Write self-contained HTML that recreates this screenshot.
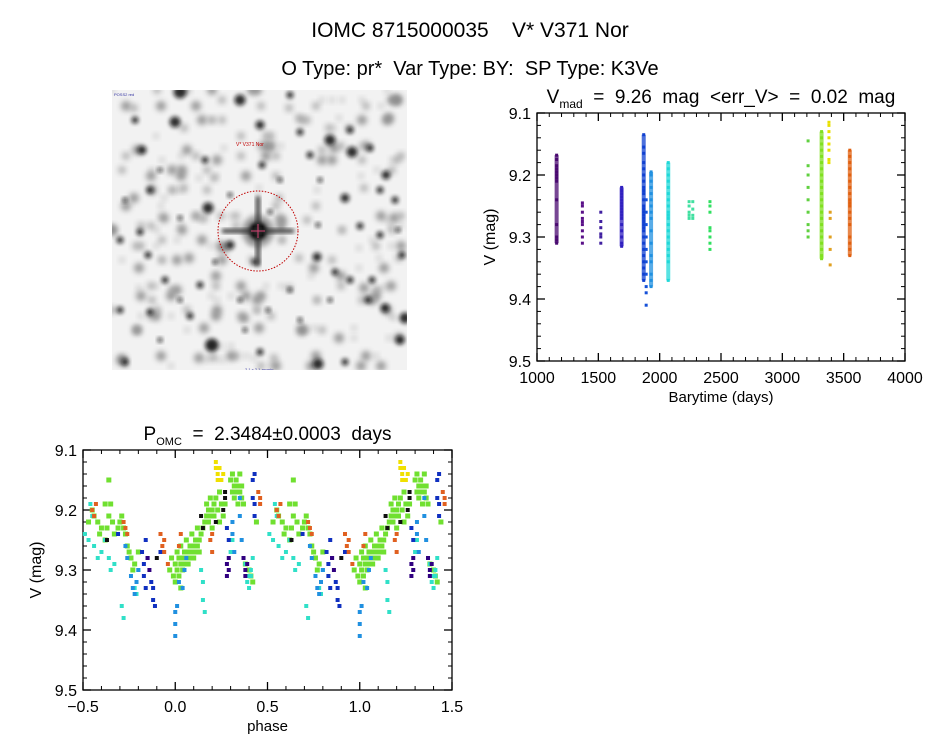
<!DOCTYPE html>
<html><head><meta charset="utf-8"><style>
html,body{margin:0;padding:0;background:#fff;}
svg{display:block;font-family:"Liberation Sans",sans-serif;}
text{white-space:pre;}
</style></head><body>
<svg id="s" width="944" height="747" viewBox="0 0 944 747" xmlns="http://www.w3.org/2000/svg">
<defs><filter id="bl" x="-50%" y="-50%" width="200%" height="200%"><feGaussianBlur stdDeviation="2.2"/></filter>
<filter id="bl2" x="-50%" y="-50%" width="200%" height="200%"><feGaussianBlur stdDeviation="3"/></filter>
<clipPath id="imgclip"><rect x="112" y="90" width="295" height="280"/></clipPath></defs>
<text x="470" y="37" font-size="21" text-anchor="middle" xml:space="preserve">IOMC 8715000035    V* V371 Nor</text>
<text x="470" y="75" font-size="20" text-anchor="middle" xml:space="preserve">O Type: pr*  Var Type: BY:  SP Type: K3Ve</text>
<g id="img" clip-path="url(#imgclip)">
<rect x="112" y="90" width="295" height="280" fill="#f2f2f2"/>
</g>
<g id="lc"></g>
<g id="ph"></g>
</svg>
<script>
const NS="http://www.w3.org/2000/svg";
function mk(p,tag,at){const e=document.createElementNS(NS,tag);for(const k in at)e.setAttribute(k,at[k]);p.appendChild(e);return e;}
// ---------- sky image (decorative) ----------
const img=document.getElementById('img');
for(let i=0;i<260;i++){const x=112+((i*53+i*i*7)%295),y=90+((i*97+i*i*3)%280);
  mk(img,'circle',{cx:x,cy:y,r:3+(i%3),fill:'#888',filter:'url(#bl2)',opacity:0.35+0.25*(i%3)});}
const stars=[[180,92,7],[240,100,6],[135,120,4],[175,122,6],[290,95,4],[260,125,5],[300,132,4],[330,140,6],[350,130,4],[352,152,6],[370,148,4],[142,150,5],[205,160,4],[262,165,4],[310,155,4],[386,175,5],[380,190,4],[150,190,4],[208,208,6],[230,195,3],[345,198,5],[395,200,4],[120,240,4],[140,232,4],[180,218,3],[230,245,5],[270,212,3],[318,225,3],[360,226,4],[380,235,4],[148,255,4],[165,280,4],[200,285,4],[215,262,3],[255,262,4],[317,257,5],[335,272,4],[350,280,4],[372,280,4],[402,255,4],[120,310,4],[150,312,4],[190,316,4],[212,345,7],[245,330,3],[268,310,3],[300,320,3],[330,300,3],[368,300,4],[385,308,5],[405,318,6],[400,340,5],[160,340,3],[260,352,4],[318,364,6],[345,362,4],[125,362,4],[180,300,3],[290,290,3],[240,300,3],[160,170,3],[280,180,3],[320,180,3],[125,200,3],[398,230,3]];
for(const st of stars){mk(img,'circle',{cx:st[0],cy:st[1],r:st[2]-0.5,fill:'#111',filter:'url(#bl)',opacity:0.85});}
mk(img,'circle',{cx:258,cy:231,r:16,fill:'#999',filter:'url(#bl2)'});
mk(img,'circle',{cx:258,cy:231,r:9,fill:'#000',filter:'url(#bl)'});
mk(img,'rect',{x:222,y:229,width:72,height:4,fill:'#333',filter:'url(#bl)'});
mk(img,'rect',{x:256,y:196,width:4,height:70,fill:'#333',filter:'url(#bl)'});
mk(img,'circle',{cx:258,cy:231,r:40,fill:'none',stroke:'#c00000','stroke-width':1,'stroke-dasharray':'1.5 1.5'});
mk(img,'line',{x1:251,y1:231,x2:265,y2:231,stroke:'#d04070','stroke-width':1});
mk(img,'line',{x1:258,y1:224,x2:258,y2:238,stroke:'#d04070','stroke-width':1});
const lab=mk(img,'text',{x:236,y:146,'font-size':5,fill:'#c00000'});lab.textContent='V* V371 Nor';
const l2=mk(img,'text',{x:114,y:96,'font-size':4,fill:'#3030a0'});l2.textContent='POSS2 red';
const l3=mk(img,'text',{x:245,y:371,'font-size':4,fill:'#3030a0'});l3.textContent='2.1 x 2.1 arcmin';

// ---------- light curve data ----------
const lcTimes=[1160,1370,1520,1690,1870,1890,1930,2070,2240,2270,2410,3210,3320,3380,3390,3550];
const lcColors=['#4a0a70','#5a1088','#4020a0','#3020c0','#1040d0','#1550d8','#2090e0','#20d8d8','#40e0a0','#40e0a0','#30e060','#60d040','#80e020','#e8e000','#e0a020','#e06010'];
const lcMags=[
[9.168,9.175,9.185,9.19,9.195,9.2,9.205,9.21,9.24,9.28,9.30,9.305,9.31],
[9.245,9.25,9.26,9.27,9.275,9.28,9.29,9.30,9.31],
[9.26,9.275,9.285,9.295,9.30,9.31],
[9.22,9.225,9.23,9.235,9.24,9.245,9.25,9.255,9.26,9.265,9.27,9.28,9.29,9.30,9.31,9.315],
[9.135,9.155,9.165,9.18,9.19,9.2,9.21,9.22,9.225,9.23,9.24,9.25,9.255,9.26,9.265,9.27,9.275,9.28,9.285,9.29,9.30,9.31,9.32,9.33,9.34,9.35,9.36,9.37],
[9.24,9.26,9.28,9.30,9.32,9.34,9.36,9.38,9.39,9.41],
[9.195,9.2,9.21,9.22,9.23,9.24,9.25,9.26,9.27,9.29,9.31,9.33,9.34,9.36,9.37,9.38],
[9.18,9.19,9.2,9.21,9.22,9.23,9.24,9.25,9.26,9.265,9.27,9.28,9.29,9.30,9.31,9.32,9.33,9.34,9.37],
[9.243,9.25,9.26,9.265,9.27],
[9.243,9.255,9.265,9.27],
[9.243,9.25,9.26,9.285,9.29,9.30,9.31,9.32],
[9.145,9.185,9.2,9.22,9.24,9.26,9.28,9.29,9.30],
[9.13,9.14,9.15,9.16,9.17,9.18,9.19,9.2,9.21,9.22,9.23,9.24,9.25,9.26,9.27,9.28,9.29,9.30,9.31,9.32,9.33,9.335],
[9.115,9.12,9.13,9.14,9.15,9.16,9.175,9.18],
[9.26,9.27,9.30,9.32,9.345],
[9.16,9.17,9.18,9.19,9.2,9.21,9.22,9.23,9.24,9.245,9.25,9.26,9.27,9.28,9.30,9.31,9.32,9.33]];
const lcXTicks=[1000,1500,2000,2500,3000,3500,4000];
const lcYTicks=[9.1,9.2,9.3,9.4,9.5];

// ---------- phase data (phase in [-0.5,0.5), drawn at p and p+1) ----------
const phColors=['#70e030','#30e0c8','#2090e0','#1030c0','#300080','#101010','#e06020','#f0e000'];
const phPhase=[
[-0.47,-0.45,-0.44,-0.42,-0.41,-0.40,-0.38,-0.37,-0.36,-0.35,-0.34,-0.33,-0.31,-0.30,-0.29,-0.28,-0.27,-0.26,-0.25,-0.24,-0.23,-0.22,-0.20,-0.03,-0.02,-0.01,0.0,0.0,0.01,0.01,0.02,0.02,0.03,0.03,0.04,0.04,0.05,0.05,0.06,0.06,0.07,0.07,0.08,0.08,0.09,0.09,0.10,0.10,0.11,0.11,0.12,0.12,0.13,0.13,0.14,0.15,0.16,0.17,0.17,0.18,0.18,0.19,0.19,0.20,0.20,0.21,0.21,0.22,0.23,0.24,0.24,0.25,0.26,0.27,0.30,0.31,0.31,0.32,0.32,0.33,0.33,0.34,0.34,0.35,0.35,0.36,0.36,0.37,0.38,0.40,0.41,0.42,0.44,0.40,-0.36,-0.38,0.03],
[-0.49,-0.47,-0.46,-0.45,-0.44,-0.42,-0.40,-0.38,-0.36,-0.35,-0.33,-0.29,-0.28,-0.22,-0.21,-0.20,0.14,0.15,0.15,0.16,0.30,0.31,0.38,0.39,0.40,0.41,0.42,0.39,0.41],
[-0.24,-0.23,-0.22,-0.21,-0.20,0.0,0.0,0.0,0.01,0.02,0.04,0.05,0.06,0.31,0.31,0.32,0.35,0.35,0.36,-0.27,-0.26],
[-0.31,-0.18,-0.17,-0.17,-0.16,-0.16,-0.15,-0.13,-0.12,-0.12,-0.11,0.28,0.29,0.42,0.42,0.43,0.43,0.43,-0.08],
[-0.15,-0.14,0.28,0.28,0.29,0.29,0.37,0.38,0.38,0.39],
[-0.1,0.15,0.27,0.27,0.14,-0.37,0.22,0.26],
[-0.45,-0.44,-0.43,-0.28,-0.27,-0.26,-0.08,-0.07,-0.06,-0.06,0.02,0.03,0.19,0.2,0.2,0.45,0.46,0.46,-0.04],
[0.22,0.22,0.23,0.23,0.24,0.25,0.26]];
const phMag=[
[9.22,9.20,9.21,9.22,9.24,9.23,9.25,9.23,9.21,9.19,9.22,9.24,9.23,9.22,9.21,9.23,9.24,9.26,9.27,9.28,9.30,9.29,9.27,9.30,9.28,9.31,9.29,9.32,9.30,9.27,9.28,9.31,9.29,9.26,9.28,9.30,9.27,9.29,9.28,9.25,9.27,9.29,9.26,9.28,9.27,9.24,9.26,9.28,9.25,9.27,9.26,9.23,9.25,9.27,9.24,9.23,9.22,9.21,9.19,9.20,9.22,9.18,9.21,9.20,9.23,9.19,9.21,9.18,9.20,9.22,9.17,9.19,9.21,9.19,9.15,9.17,9.14,9.16,9.18,9.15,9.17,9.16,9.19,9.14,9.17,9.16,9.18,9.19,9.29,9.30,9.31,9.32,9.22,9.30,9.15,9.19,9.33],
[9.24,9.25,9.19,9.21,9.26,9.28,9.27,9.25,9.28,9.30,9.29,9.36,9.38,9.33,9.34,9.30,9.30,9.32,9.35,9.37,9.27,9.25,9.29,9.31,9.33,9.30,9.28,9.32,9.31],
[9.31,9.33,9.34,9.32,9.30,9.37,9.39,9.41,9.36,9.32,9.33,9.30,9.28,9.22,9.24,9.27,9.18,9.21,9.25,9.26,9.28],
[9.24,9.27,9.29,9.31,9.25,9.33,9.28,9.32,9.33,9.35,9.36,9.23,9.25,9.15,9.18,9.14,9.19,9.21,9.27],
[9.28,9.30,9.29,9.31,9.30,9.28,9.28,9.30,9.31,9.29],
[9.28,9.23,9.17,9.18,9.21,9.25,9.22,9.20],
[9.20,9.21,9.19,9.22,9.23,9.24,9.24,9.26,9.27,9.25,9.26,9.24,9.25,9.27,9.24,9.17,9.19,9.18,9.29],
[9.12,9.13,9.14,9.15,9.13,9.15,9.14]];
const phXTicks=[-0.5,0.0,0.5,1.0,1.5];
const phYTicks=[9.1,9.2,9.3,9.4,9.5];

// ---------- axis helper ----------
function axes(g,L,R,T,B,xmin,xmax,ymin,ymax,xt,yt,xminor,xfmt,xlabel,title){
  const X=v=>L+(v-xmin)/(xmax-xmin)*(R-L), Y=v=>T+(v-ymin)/(ymax-ymin)*(B-T);
  const fr=mk(g,'rect',{x:L,y:T,width:R-L,height:B-T,fill:'none',stroke:'#000','stroke-width':1.3});
  
  
  for(let i=0;i<xt.length;i++){const x=X(xt[i]);
    mk(g,'line',{x1:x,y1:B,x2:x,y2:B-8,stroke:'#000','stroke-width':1.3});
    mk(g,'line',{x1:x,y1:T,x2:x,y2:T+8,stroke:'#000','stroke-width':1.3});
    const t=mk(g,'text',{x:x,y:B+22,'font-size':16,'text-anchor':'middle'});t.textContent=xfmt(xt[i]);
    
    
    if(i<xt.length-1){for(let k=1;k<xminor;k++){const xm=X(xt[i]+(xt[i+1]-xt[i])*k/xminor);
      mk(g,'line',{x1:xm,y1:B,x2:xm,y2:B-4,stroke:'#000'});mk(g,'line',{x1:xm,y1:T,x2:xm,y2:T+4,stroke:'#000'});}}
  }
  for(let i=0;i<yt.length;i++){const y=Y(yt[i]);
    mk(g,'line',{x1:L,y1:y,x2:L+8,y2:y,stroke:'#000','stroke-width':1.3});
    mk(g,'line',{x1:R,y1:y,x2:R-8,y2:y,stroke:'#000','stroke-width':1.3});
    const t=mk(g,'text',{x:L-6,y:y+6,'font-size':16,'text-anchor':'end'});t.textContent=yt[i].toFixed(1);
    
    
    if(i<yt.length-1){for(let k=1;k<5;k++){const ym=Y(yt[i]+(yt[i+1]-yt[i])*k/5);
      mk(g,'line',{x1:L,y1:ym,x2:L+4,y2:ym,stroke:'#000'});mk(g,'line',{x1:R,y1:ym,x2:R-4,y2:ym,stroke:'#000'});}}
  }
  const xl=mk(g,'text',{x:(L+R)/2,y:B+41,'font-size':15,'text-anchor':'middle'});xl.textContent=xlabel;
  
  
  const yx=L-42,yy=(T+B)/2;
  const yl=mk(g,'text',{x:yx,y:yy,'font-size':16,'text-anchor':'middle',transform:`rotate(-90 ${yx} ${yy})`});yl.textContent='V (mag)';
  
  
  const tt=mk(g,'text',{x:(L+R)/2,y:T-10,'font-size':19,'text-anchor':'middle'});tt.innerHTML=title;
  
  
  return {X,Y};
}
// ---------- light curve ----------
const lc=document.getElementById('lc');
const A=axes(lc,537,905,113,361,1000,4000,9.1,9.5,lcXTicks,lcYTicks,5,v=>String(v),'Barytime (days)',
 'V<tspan font-size="12" dy="5">mad</tspan><tspan dy="-5">  =  9.26  mag  &lt;err_V&gt;  =  0.02  mag</tspan>');
for(let s=0;s<lcTimes.length;s++){
  for(let j=0;j<lcMags[s].length;j++){
    const p=mk(lc,'rect',{x:A.X(lcTimes[s])-1.5,y:A.Y(lcMags[s][j])-1.5,width:3,height:3,fill:lcColors[s]});
    
    
  }
  if(lcMags[s].length>10){const mn=Math.min(...lcMags[s]),mx=Math.max(...lcMags[s]);
    const r=mk(lc,'rect',{x:A.X(lcTimes[s])-2,y:A.Y(mn),width:4,height:A.Y(mx)-A.Y(mn),fill:lcColors[s],opacity:0.75});
    
    }
}
// ---------- phase plot ----------
const ph=document.getElementById('ph');
const B2=axes(ph,83,452,450,690,-0.5,1.5,9.1,9.5,phXTicks,phYTicks,5,v=>(v<0?'\u2212':'')+Math.abs(v).toFixed(1),'phase',
 'P<tspan font-size="11" dy="5">OMC</tspan><tspan dy="-5">  =  2.3484\u00b10.0003  days</tspan>');
for(let g=0;g<phColors.length;g++){
  const sz=g===0?5:4;
  for(let j=0;j<phPhase[g].length;j++){
    for(const off of [0,1]){
      const pp=phPhase[g][j]+off; if(pp<-0.5||pp>1.5)continue;
      const p=mk(ph,'rect',{x:B2.X(pp)-sz/2,y:B2.Y(phMag[g][j])-sz/2,width:sz,height:sz,fill:phColors[g]});
      
      
    }
  }
}
</script>
</body></html>
